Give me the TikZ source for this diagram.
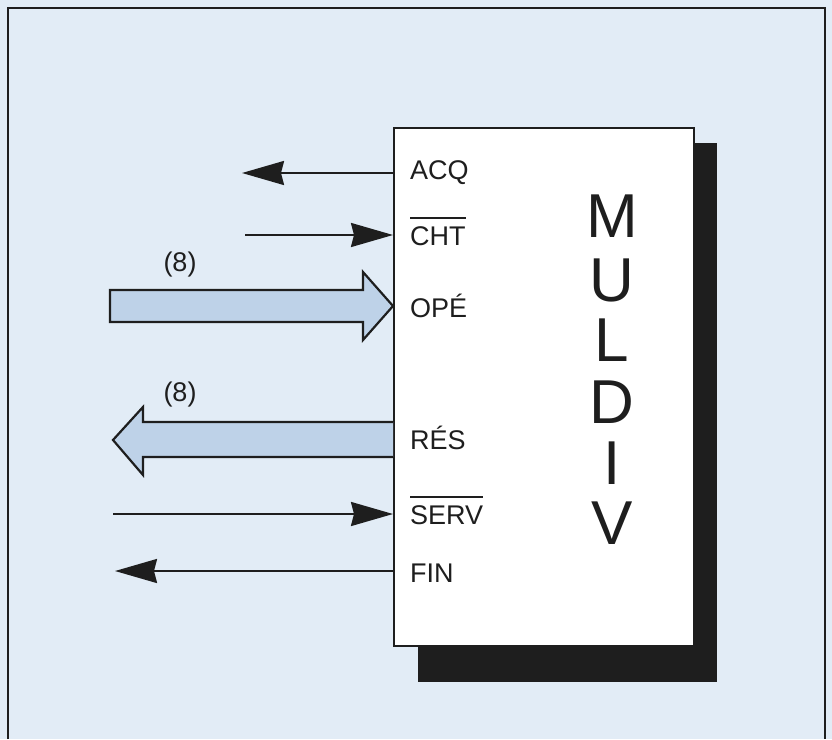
\documentclass[tikz,border=0pt]{standalone}
\usepackage{fontspec}
\setmainfont{Liberation Sans}
\usetikzlibrary{arrows.meta}
\definecolor{bgblue}{RGB}{226,236,246}
\definecolor{busblue}{RGB}{190,210,232}
\definecolor{inkc}{RGB}{30,30,30}
\tikzset{
  pinlabel/.style={anchor=west, inner sep=0pt, font=\fontsize{27}{27}\selectfont, text=inkc},
  bignum/.style={inner sep=0pt, font=\fontsize{27}{27}\selectfont, text=inkc},
  bigletter/.style={inner sep=0pt, font=\fontsize{62}{62}\selectfont, text=inkc},
  sig/.style={draw=inkc, line width=2.2pt, -{Stealth[length=42pt,width=24pt,inset=3pt]}},
  bus/.style={draw=inkc, line width=2.2pt, fill=busblue, line join=miter},
}
\newcommand{\ovl}[1]{\leavevmode\vbox{\hrule height 2pt\kern 7pt\hbox{#1}}}
\begin{document}
\begin{tikzpicture}[x=1pt,y=-1pt]
\useasboundingbox (0,0) rectangle (832,739);
\fill[bgblue] (0,0) rectangle (832,739);
% outer frame
\draw[inkc, line width=2pt] (8,739) -- (8,8) -- (825,8) -- (825,739);
% shadow
\fill[inkc] (418,143) rectangle (717,682);
% main box
\node[draw=inkc, line width=2.2pt, fill=white, minimum width=300pt, minimum height=518pt, inner sep=0pt, anchor=north west] (box) at (393,127) {};
% pin labels
\node[pinlabel] (acq) at (410,173) {ACQ};
\node[pinlabel, anchor=base west] (cht) at (410,245) {\ovl{CHT}};
\node[pinlabel] (ope) at (410,306) {OPÉ};
\node[pinlabel] (res) at (410,438) {RÉS};
\node[pinlabel, anchor=base west] (serv) at (410,524) {\ovl{SERV}};
\node[pinlabel] (fin) at (410,573) {FIN};
% MULDIV
\node[bigletter] (m1) at (612,216) {M};
\node[bigletter] (m2) at (612,280) {U};
\node[bigletter] (m3) at (612,340) {L};
\node[bigletter] (m4) at (612,402) {D};
\node[bigletter] (m5) at (612,463) {I};
\node[bigletter] (m6) at (612,523) {V};
% free ends
\coordinate (acqend) at (242,173);
\coordinate (chtstart) at (245,235);
\coordinate (servstart) at (113,514);
\coordinate (finend) at (115,571);
% thin signal arrows
\draw[sig] (box.west |- acqend) -- (acqend);
\draw[sig] (chtstart) -- (box.west |- chtstart);
\draw[sig] (servstart) -- (box.west |- servstart);
\draw[sig] (box.west |- finend) -- (finend);
% bus arrows
\coordinate (opetip) at (box.west |- 0,306);
\draw[bus] (110,290) -- (363,290) -- (363,272) -- (opetip) -- (363,340) -- (363,322) -- (110,322) -- cycle;
\coordinate (resbase) at (box.west |- 0,440);
\draw[bus] (resbase |- 0,422) -- (143,422) -- (143,407) -- (113,440) -- (143,475) -- (143,457) -- (resbase |- 0,457);
\node[bignum] (n1) at (180,265) {(8)};
\node[bignum] (n2) at (180,395) {(8)};
\end{tikzpicture}
\end{document}
